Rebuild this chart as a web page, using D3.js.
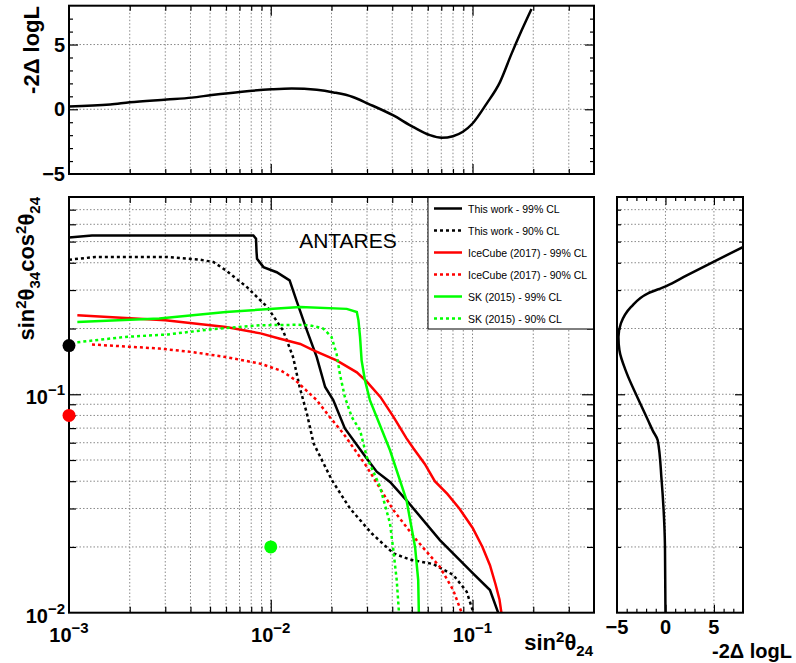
<!DOCTYPE html>
<html>
<head>
<meta charset="utf-8">
<script src="https://cdn.jsdelivr.net/npm/d3@7"></script>
<style>
  body { margin: 0; background: #fff; }
  text { font-family: "Liberation Sans", Arial, Helvetica, sans-serif; }
</style>
</head>
<body>
<svg id="chart" width="796" height="663"></svg>
<script>
// Curvas de exclusión (sin2θ24, sin2θ34cos2θ24)
const thisWork99 = [[0.001,0.522],[0.0013,0.533],[0.0082,0.533],[0.00845,0.515],[0.0085,0.45],[0.00855,0.417],[0.0092,0.382],[0.0107,0.362],[0.0124,0.332],[0.0134,0.269],[0.0151,0.196],[0.0169,0.148],[0.0186,0.108],[0.0204,0.094],[0.0233,0.0697],[0.0299,0.0508],[0.0335,0.0442],[0.039,0.0397],[0.0471,0.0327],[0.0689,0.0215],[0.1008,0.0151],[0.122,0.0127],[0.134,0.0100]];
const thisWork90 = [[0.001,0.413],[0.00135,0.425],[0.00305,0.425],[0.00446,0.413],[0.0052,0.403],[0.006,0.369],[0.0076,0.310],[0.0096,0.251],[0.0115,0.196],[0.0129,0.148],[0.0139,0.108],[0.0151,0.0816],[0.0163,0.0596],[0.0201,0.0404],[0.0247,0.030],[0.0316,0.0231],[0.0405,0.0187],[0.049,0.0175],[0.0638,0.0167],[0.0802,0.0149],[0.0935,0.0125],[0.101,0.0100]];
const iceCube99 = [[0.0011,0.230],[0.003,0.218],[0.006,0.203],[0.0089,0.190],[0.011,0.180],[0.014,0.170],[0.0163,0.159],[0.0212,0.143],[0.0267,0.126],[0.030,0.114],[0.035,0.097],[0.0405,0.079],[0.047,0.063],[0.051,0.0565],[0.058,0.048],[0.065,0.040],[0.075,0.035],[0.086,0.030],[0.1,0.0245],[0.112,0.020],[0.122,0.0165],[0.13,0.0135],[0.136,0.0115],[0.139,0.0100]];
const iceCube90 = [[0.0013,0.169],[0.0028,0.162],[0.0041,0.156],[0.006,0.148],[0.0089,0.138],[0.0113,0.128],[0.0131,0.117],[0.0169,0.094],[0.0196,0.0787],[0.0229,0.0661],[0.0299,0.0466],[0.0405,0.0295],[0.0528,0.0215],[0.0689,0.0162],[0.0802,0.0127],[0.0883,0.0100]];
const sk99 = [[0.0011,0.214],[0.0028,0.222],[0.006,0.238],[0.014,0.251],[0.0238,0.246],[0.0267,0.238],[0.0272,0.218],[0.0277,0.183],[0.0282,0.143],[0.0293,0.116],[0.031,0.094],[0.039,0.0554],[0.0471,0.0327],[0.0519,0.020],[0.0538,0.0141],[0.0542,0.0100]];
const sk90 = [[0.0011,0.173],[0.0019,0.183],[0.0031,0.188],[0.005,0.198],[0.0089,0.207],[0.0134,0.208],[0.0156,0.207],[0.0182,0.200],[0.020,0.183],[0.0212,0.153],[0.022,0.124],[0.0233,0.097],[0.0252,0.0787],[0.0277,0.0684],[0.0299,0.0517],[0.0348,0.0377],[0.039,0.0256],[0.0405,0.0194],[0.0421,0.0141],[0.0432,0.0100]];

// Mejores ajustes (puntos)
const bestFits = [[0.001,0.167,'#000'],[0.001,0.08,'#f00'],[0.01,0.02,'#0f0']];

// Perfil de -2ΔlogL frente a sin2θ24 (panel superior)
const profileX = [[0.001,0.22],[0.0016,0.36],[0.002,0.54],[0.00305,0.75],[0.00406,0.9],[0.0051,1.1],[0.0072,1.36],[0.0101,1.54],[0.0127,1.6],[0.0169,1.5],[0.0205,1.3],[0.0255,0.95],[0.0303,0.44],[0.0403,-0.46],[0.0507,-1.36],[0.0615,-2.0],[0.0703,-2.2],[0.08,-2.08],[0.0896,-1.74],[0.1,-1.1],[0.1175,0.44],[0.1368,2.1],[0.156,4.28],[0.175,6.08],[0.196,7.75]];
// Perfil de -2ΔlogL frente a sin2θ34cos2θ24 (panel derecho): [y, -2ΔlogL]
const profileY = [[0.0100,0],[0.02,-0.05],[0.03,-0.2],[0.0405,-0.4],[0.0616,-0.8],[0.068,-1.3],[0.076,-1.8],[0.097,-2.9],[0.125,-4.0],[0.159,-4.75],[0.183,-4.85],[0.211,-4.6],[0.251,-3.55],[0.29,-1.8],[0.312,0.03],[0.35,2.2],[0.403,4.9],[0.472,8]];

// Leyenda
const legendLabels = ['This work - 99% CL','This work - 90% CL','IceCube (2017) - 99% CL','IceCube (2017) - 90% CL','SK (2015) - 99% CL','SK (2015) - 90% CL'];
const legendColors = ['#000','#000','#f00','#f00','#0f0','#0f0'];
const legendDotted = [false,true,false,true,false,true];
const curves = [thisWork99, thisWork90, iceCube99, iceCube90, sk99, sk90];

// Ticks
const xDecades = [1e-3,1e-2,1e-1], xExp = ['\u22123','\u22122','\u22121'];
const yDecades = [1e-2,1e-1], yExp = ['\u22122','\u22121'];
const dlTicks = [-5,0,5], dlLabels = ['\u22125','0','5'];

const svg = d3.select('#chart');
const mainF = {l:69, r:594, t:197, b:612.7};
const topF = {l:69, r:594, t:5.7, b:174};
const sideF = {l:617, r:743, t:197, b:612.7};

const x = d3.scaleLog().domain([1e-3, 0.4]).range([mainF.l, mainF.r]);
const y = d3.scaleLog().domain([1e-2, 0.8]).range([mainF.b, mainF.t]);
const yTop = d3.scaleLinear().domain([-5, 8]).range([topF.b, topF.t]);
const xSide = d3.scaleLinear().domain([-5, 8]).range([sideF.l, sideF.r]);

const isDecade = v => Math.abs(Math.log10(v) - Math.round(Math.log10(v))) < 1e-6;
const inside = (s, v) => { const [a,b] = s.domain(); return v > a*1.0001 && v < b*0.9999; };

const xAll = x.ticks().filter(v => inside(x, v));
const yAll = y.ticks().filter(v => inside(y, v));
const xMinor = xAll.filter(v => !isDecade(v)), xMajor = xAll.filter(isDecade);
const yMinor = yAll.filter(v => !isDecade(v)), yMajor = yAll.filter(isDecade);
const dlMinor = d3.range(-4, 8).filter(v => v % 5 !== 0);

function grid(vals, pos, F, vertical) {
  svg.append('g').selectAll('line').data(vals).enter().append('line')
    .attr('x1', d => vertical ? pos(d) : F.l).attr('x2', d => vertical ? pos(d) : F.r)
    .attr('y1', d => vertical ? F.t : pos(d)).attr('y2', d => vertical ? F.b : pos(d))
    .attr('stroke', '#8a8a8a').attr('stroke-width', 1).attr('stroke-dasharray', '1.5,2');
}

function ticks(axisFn, scale, vals, size, tr) {
  svg.append('g').attr('transform', tr)
    .call(axisFn(scale).tickValues(vals).tickSize(-size).tickSizeOuter(0).tickFormat(''))
    .call(g => g.select('.domain').remove())
    .selectAll('line').attr('stroke', '#000').attr('stroke-width', 1.2);
}

function frame(F) {
  svg.append('rect').attr('x', F.l).attr('y', F.t).attr('width', F.r - F.l).attr('height', F.b - F.t)
    .attr('fill', 'none').attr('stroke', '#000').attr('stroke-width', 2);
}

function clip(id, F) {
  svg.append('clipPath').attr('id', id).append('rect')
    .attr('x', F.l).attr('y', F.t).attr('width', F.r - F.l).attr('height', F.b - F.t);
}
clip('clipMain', mainF); clip('clipTop', topF); clip('clipSide', sideF);

//////
///// Panel superior
//////
grid(xAll, x, topF, true);
grid([0, 5], yTop, topF, false);
ticks(d3.axisBottom, x, xMinor, 5, `translate(0,${topF.b})`);
ticks(d3.axisBottom, x, xMajor, 10, `translate(0,${topF.b})`);
ticks(d3.axisTop, x, xMinor, 5, `translate(0,${topF.t})`);
ticks(d3.axisTop, x, xMajor, 10, `translate(0,${topF.t})`);
ticks(d3.axisLeft, yTop, dlMinor, 4, `translate(${topF.l},0)`);
ticks(d3.axisLeft, yTop, [0, 5], 9, `translate(${topF.l},0)`);
ticks(d3.axisRight, yTop, dlMinor, 4, `translate(${topF.r},0)`);
ticks(d3.axisRight, yTop, [0, 5], 9, `translate(${topF.r},0)`);

svg.append('path').datum(profileX).attr('clip-path', 'url(#clipTop)')
  .attr('fill', 'none').attr('stroke', '#000').attr('stroke-width', 2.5)
  .attr('d', d3.line().x(d => x(d[0])).y(d => yTop(d[1])).curve(d3.curveMonotoneX));
frame(topF);

svg.append('g').selectAll('text').data(dlTicks).enter().append('text')
  .attr('x', 65).attr('y', d => yTop(d) + 7).attr('text-anchor', 'end')
  .attr('font-size', 20).attr('font-weight', 'bold').text((d, i) => dlLabels[i]);

svg.append('text').attr('transform', 'translate(39,6) rotate(-90)').attr('text-anchor', 'end')
  .attr('font-size', 22).attr('font-weight', 'bold').text('-2\u0394 logL');

//////
///// Panel principal
//////
grid(xAll, x, mainF, true);
grid(yAll, y, mainF, false);
ticks(d3.axisBottom, x, xMinor, 6, `translate(0,${mainF.b})`);
ticks(d3.axisBottom, x, xMajor, 13, `translate(0,${mainF.b})`);
ticks(d3.axisTop, x, xMinor, 6, `translate(0,${mainF.t})`);
ticks(d3.axisTop, x, xMajor, 13, `translate(0,${mainF.t})`);
ticks(d3.axisLeft, y, yMinor, 7, `translate(${mainF.l},0)`);
ticks(d3.axisLeft, y, yMajor, 12, `translate(${mainF.l},0)`);
ticks(d3.axisRight, y, yMinor, 7, `translate(${mainF.r},0)`);
ticks(d3.axisRight, y, yMajor, 12, `translate(${mainF.r},0)`);

const line = d3.line().x(d => x(d[0])).y(d => y(d[1]));
svg.append('g').attr('clip-path', 'url(#clipMain)')
  .selectAll('path').data(curves).enter().append('path')
  .attr('fill', 'none')
  .attr('stroke', (d, i) => legendColors[i])
  .attr('stroke-width', 2.5)
  .attr('stroke-dasharray', (d, i) => legendDotted[i] ? '3,3' : null)
  .attr('d', line);

// Leyenda
const lg = svg.append('g');
lg.append('rect').attr('x', 428).attr('y', mainF.t).attr('width', mainF.r - 428).attr('height', 132)
  .attr('fill', '#fff').attr('stroke', '#000').attr('stroke-width', 1);
legendLabels.forEach((lab, i) => {
  const ly = 208.5 + i * 22;
  lg.append('line').attr('x1', 434).attr('x2', 462).attr('y1', ly).attr('y2', ly)
    .attr('stroke', legendColors[i]).attr('stroke-width', 2.5)
    .attr('stroke-dasharray', legendDotted[i] ? '3,3' : null);
  lg.append('text').attr('x', 468).attr('y', ly + 4).attr('font-size', 10.5).text(lab);
});

svg.append('text').attr('x', 348).attr('y', 248).attr('text-anchor', 'middle')
  .attr('font-size', 21).text('ANTARES');

frame(mainF);

svg.append('g').selectAll('circle').data(bestFits).enter().append('circle')
  .attr('cx', d => x(d[0])).attr('cy', d => y(d[1])).attr('r', 6.5).attr('fill', d => d[2]);

// Etiquetas de ejes
function powLabel(sel, exp) {
  sel.append('tspan').text('10');
  sel.append('tspan').attr('dy', -9).attr('font-size', 15).text(exp);
}
xDecades.forEach((v, i) => {
  const t = svg.append('text').attr('x', x(v)).attr('y', 642).attr('text-anchor', 'middle')
    .attr('font-size', 20).attr('font-weight', 'bold');
  powLabel(t, xExp[i]);
});
yDecades.forEach((v, i) => {
  const t = svg.append('text').attr('x', 65).attr('y', y(v) + 10).attr('text-anchor', 'end')
    .attr('font-size', 20).attr('font-weight', 'bold');
  powLabel(t, yExp[i]);
});

function sinLabel(t, parts) {
  parts.forEach(p => {
    const s = t.append('tspan').text(p[0]);
    if (p[1]) s.attr('dy', p[1]);
    if (p[2]) s.attr('font-size', p[2]);
  });
}
const xt = svg.append('text').attr('x', 593).attr('y', 650).attr('text-anchor', 'end')
  .attr('font-size', 22).attr('font-weight', 'bold');
sinLabel(xt, [['sin'], ['2', -8, 15], ['\u03b8', 8], ['24', 6, 15]]);

const yt = svg.append('text').attr('transform', `translate(34,${mainF.t}) rotate(-90)`)
  .attr('text-anchor', 'end').attr('font-size', 22).attr('font-weight', 'bold');
sinLabel(yt, [['sin'], ['2', -8, 15], ['\u03b8', 8], ['34', 6, 15], ['cos', -6], ['2', -8, 15], ['\u03b8', 8], ['24', 6, 15]]);

//////
///// Panel derecho
//////
grid([0, 5], xSide, sideF, true);
grid(yAll, y, sideF, false);
ticks(d3.axisBottom, xSide, dlMinor, 4, `translate(0,${sideF.b})`);
ticks(d3.axisBottom, xSide, [0, 5], 8, `translate(0,${sideF.b})`);
ticks(d3.axisTop, xSide, dlMinor, 4, `translate(0,${sideF.t})`);
ticks(d3.axisTop, xSide, [0, 5], 8, `translate(0,${sideF.t})`);
ticks(d3.axisLeft, y, yMinor, 4, `translate(${sideF.l},0)`);
ticks(d3.axisLeft, y, yMajor, 8, `translate(${sideF.l},0)`);
ticks(d3.axisRight, y, yMinor, 4, `translate(${sideF.r},0)`);
ticks(d3.axisRight, y, yMajor, 8, `translate(${sideF.r},0)`);

svg.append('path').datum(profileY).attr('clip-path', 'url(#clipSide)')
  .attr('fill', 'none').attr('stroke', '#000').attr('stroke-width', 2.5)
  .attr('d', d3.line().x(d => xSide(d[1])).y(d => y(d[0])).curve(d3.curveMonotoneY));
frame(sideF);

svg.append('g').selectAll('text').data(dlTicks).enter().append('text')
  .attr('x', d => xSide(d)).attr('y', 634).attr('text-anchor', 'middle')
  .attr('font-size', 20).attr('font-weight', 'bold').text((d, i) => dlLabels[i]);

svg.append('text').attr('x', 792).attr('y', 658).attr('text-anchor', 'end')
  .attr('font-size', 20).attr('font-weight', 'bold').text('-2\u0394 logL');
</script>
</body>
</html>
